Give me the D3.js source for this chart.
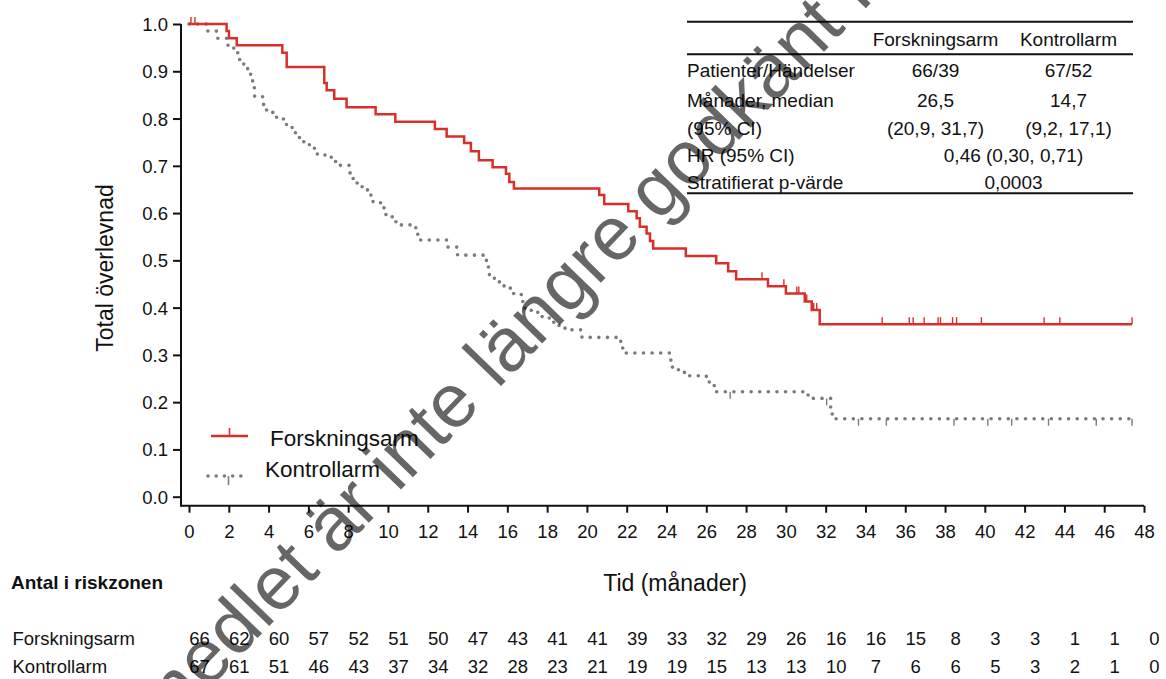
<!DOCTYPE html>
<html>
<head>
<meta charset="utf-8">
<script src="https://cdn.jsdelivr.net/npm/d3@7"></script>
<style>
body{margin:0;background:#fff}
svg{display:block;font-family:"Liberation Sans",Arial,sans-serif}
</style>
</head>
<body>
<svg id="chart" width="1166" height="679"></svg>
<script>
// Kaplan-Meier steps: month of each drop and the survival after it
var forskTime = [0,1.89,2.01,2.40,4.69,4.91,6.80,6.92,7.30,7.92,9.38,10.37,12.36,12.95,13.83,14.17,14.57,15.26,15.93,16.10,16.33,20.62,20.87,22.08,22.50,22.66,23.00,23.17,23.33,24.97,26.50,27.10,27.50,29.10,30.00,30.95,31.30,31.70];
var forskSurv = [1.0,0.985,0.970,0.955,0.939,0.909,0.875,0.860,0.842,0.824,0.809,0.793,0.778,0.762,0.748,0.731,0.712,0.697,0.683,0.666,0.652,0.638,0.619,0.604,0.589,0.571,0.557,0.541,0.525,0.509,0.494,0.477,0.460,0.445,0.430,0.413,0.395,0.365];
var forskCensor = [0.1,0.3,28.8,29.9,30.55,30.65,31.05,31.4,31.55,34.84,36.2,36.4,36.95,37.65,37.77,38.38,38.58,39.83,42.98,43.77,47.4];

var kontrollTime = [0,0.95,1.4,1.95,2.25,2.45,2.75,2.95,3.1,3.2,3.3,3.75,3.9,4.4,4.9,5.35,5.55,6.05,6.45,7.15,7.5,8.05,8.25,8.45,8.7,9.0,9.25,9.8,9.9,10.4,11.4,11.5,13.0,13.5,14.95,15.05,15.1,15.35,15.6,16.15,16.7,16.8,17.2,17.6,18.0,18.3,18.6,18.9,19.75,21.7,21.8,24.2,24.3,24.6,24.9,26.0,26.15,26.4,30.95,31.2,32.25,32.33,32.4];
var kontrollSurv = [1.0,0.985,0.970,0.955,0.940,0.925,0.910,0.895,0.880,0.865,0.846,0.829,0.813,0.799,0.781,0.765,0.751,0.737,0.723,0.709,0.701,0.685,0.673,0.660,0.649,0.638,0.622,0.607,0.592,0.575,0.559,0.543,0.528,0.511,0.494,0.480,0.462,0.455,0.446,0.430,0.413,0.399,0.390,0.381,0.378,0.369,0.361,0.353,0.337,0.321,0.304,0.289,0.272,0.264,0.256,0.249,0.235,0.222,0.215,0.208,0.187,0.171,0.165];
var kontrollCensor = [27.2,32.05,33.65,35.05,38.45,40.15,41.35,43.2,45.6,47.4];

var lastMonth = 47.4;

var xTicks = d3.range(0, 49, 2);
var yTicks = [0,0.1,0.2,0.3,0.4,0.5,0.6,0.7,0.8,0.9,1.0];

// number at risk
var riskMonths = d3.range(0, 49, 2);
var riskForsk = [66,62,60,57,52,51,50,47,43,41,41,39,33,32,29,26,16,16,15,8,3,3,1,1,0];
var riskKontroll = [67,61,51,46,43,37,34,32,28,23,21,19,19,15,13,13,10,7,6,6,5,3,2,1,0];

// summary table
var tableHead = ["Forskningsarm", "Kontrollarm"];
var tableLabels = ["Patienter/Händelser", "Månader, median", "(95% CI)", "HR (95% CI)", "Stratifierat p-värde"];
var tableForsk = ["66/39", "26,5", "(20,9, 31,7)"];
var tableKontroll = ["67/52", "14,7", "(9,2, 17,1)"];
var tableJoint = ["0,46 (0,30, 0,71)", "0,0003"];

var RED = "#d7302a", GREY = "#7b7b7b", INK = "#111";

var svg = d3.select("#chart");

var x = d3.scaleLinear().domain([0, 48]).range([189, 1144]);
var y = d3.scaleLinear().domain([0, 1]).range([496.7, 24]);
var axisY = 505.7, axisX = 181;

// build step data ending at last follow-up
function steps(times, surv) {
    var pts = times.map(function(t, i) { return {t: t, s: surv[i]}; });
    pts.push({t: lastMonth, s: surv[surv.length - 1]});
    return pts;
}
function survAt(times, surv, t) {
    var i = d3.bisectRight(times, t) - 1;
    return surv[Math.max(i, 0)];
}

var line = d3.line().curve(d3.curveStepAfter)
    .x(function(d) { return x(d.t); })
    .y(function(d) { return y(d.s); });

// axes
var gy = svg.append("g").attr("transform", "translate(" + axisX + ",0)")
    .call(d3.axisLeft(y).tickValues(yTicks).tickFormat(d3.format(".1f")).tickSize(8).tickPadding(5));
var gx = svg.append("g").attr("transform", "translate(0," + axisY + ")")
    .call(d3.axisBottom(x).tickValues(xTicks).tickSize(7).tickPadding(12));
[gx, gy].forEach(function(g) {
    g.select(".domain").remove();
    g.selectAll(".tick line").attr("stroke", INK).attr("stroke-width", 2);
    g.selectAll(".tick text").attr("fill", INK).style("font-size", "18.5px")
        .style("font-family", "'Liberation Sans',Arial,sans-serif");
});
gy.selectAll(".tick text").attr("dy", "0.35em");
svg.append("line").attr("x1", axisX).attr("x2", axisX).attr("y1", y(1)).attr("y2", axisY + 1)
    .attr("stroke", INK).attr("stroke-width", 2);
svg.append("line").attr("x1", axisX).attr("x2", x(48)).attr("y1", axisY).attr("y2", axisY)
    .attr("stroke", INK).attr("stroke-width", 2);

svg.append("text").attr("transform", "translate(105,268) rotate(-90)")
    .attr("text-anchor", "middle").attr("dy", "0.35em").attr("fill", INK)
    .style("font-size", "23px").text("Total överlevnad");
svg.append("text").attr("x", 675).attr("y", 583).attr("dy", "0.35em")
    .attr("text-anchor", "middle").attr("fill", INK)
    .style("font-size", "23px").text("Tid (månader)");

// curves
svg.append("path").datum(steps(kontrollTime, kontrollSurv))
    .attr("d", line).attr("fill", "none").attr("stroke", GREY)
    .attr("stroke-width", 3.6).attr("stroke-linecap", "round")
    .attr("stroke-dasharray", "0.01 8.6");
svg.selectAll(".kcens").data(kontrollCensor).enter().append("line")
    .attr("x1", function(d) { return x(d); }).attr("x2", function(d) { return x(d); })
    .attr("y1", function(d) { return y(survAt(kontrollTime, kontrollSurv, d)); })
    .attr("y2", function(d) { return y(survAt(kontrollTime, kontrollSurv, d)) + 7; })
    .attr("stroke", GREY).attr("stroke-width", 1.4);

svg.append("path").datum(steps(forskTime, forskSurv))
    .attr("d", line).attr("fill", "none").attr("stroke", RED)
    .attr("stroke-width", 2.5);
svg.selectAll(".fcens").data(forskCensor).enter().append("line")
    .attr("x1", function(d) { return x(d); }).attr("x2", function(d) { return x(d); })
    .attr("y1", function(d) { return y(survAt(forskTime, forskSurv, d)); })
    .attr("y2", function(d) { return y(survAt(forskTime, forskSurv, d)) - 7; })
    .attr("stroke", RED).attr("stroke-width", 1.4);

// legend
var lg = svg.append("g");
lg.append("line").attr("x1", 211).attr("x2", 248).attr("y1", 436).attr("y2", 436)
    .attr("stroke", RED).attr("stroke-width", 2.5);
lg.append("line").attr("x1", 229.5).attr("x2", 229.5).attr("y1", 428).attr("y2", 436)
    .attr("stroke", RED).attr("stroke-width", 1.6);
lg.append("text").attr("x", 270).attr("y", 438).attr("dy", "0.35em").attr("fill", INK)
    .style("font-size", "22.5px").text(tableHead[0]);
lg.append("line").attr("x1", 208).attr("x2", 249).attr("y1", 476).attr("y2", 476)
    .attr("stroke", GREY).attr("stroke-width", 3.6).attr("stroke-linecap", "round")
    .attr("stroke-dasharray", "0.01 8.2");
lg.append("line").attr("x1", 228.5).attr("x2", 228.5).attr("y1", 476).attr("y2", 485)
    .attr("stroke", GREY).attr("stroke-width", 1.6);
lg.append("text").attr("x", 265).attr("y", 469).attr("dy", "0.35em").attr("fill", INK)
    .style("font-size", "22.5px").text(tableHead[1]);

// summary table top right
var tb = svg.append("g").style("font-size", "19px").attr("fill", INK);
[21.7, 54.3, 193.3].forEach(function(ly) {
    tb.append("line").attr("x1", 687).attr("x2", 1133).attr("y1", ly).attr("y2", ly)
        .attr("stroke", INK).attr("stroke-width", 2);
});
var colX = [935.5, 1068.5], jointX = 1013.5;
var rowY = [70, 100, 128, 155, 182.7];
tb.selectAll(".th").data(tableHead).enter().append("text")
    .attr("x", function(d, i) { return colX[i]; }).attr("y", 39.3).attr("dy", "0.35em")
    .attr("text-anchor", "middle").text(function(d) { return d; });
tb.selectAll(".tl").data(tableLabels).enter().append("text")
    .attr("x", 687).attr("y", function(d, i) { return rowY[i]; }).attr("dy", "0.35em")
    .text(function(d) { return d; });
tb.selectAll(".tf").data(tableForsk).enter().append("text")
    .attr("x", colX[0]).attr("y", function(d, i) { return rowY[i]; }).attr("dy", "0.35em")
    .attr("text-anchor", "middle").text(function(d) { return d; });
tb.selectAll(".tk").data(tableKontroll).enter().append("text")
    .attr("x", colX[1]).attr("y", function(d, i) { return rowY[i]; }).attr("dy", "0.35em")
    .attr("text-anchor", "middle").text(function(d) { return d; });
tb.selectAll(".tj").data(tableJoint).enter().append("text")
    .attr("x", jointX).attr("y", function(d, i) { return rowY[i + 3]; }).attr("dy", "0.35em")
    .attr("text-anchor", "middle").text(function(d) { return d; });

// number at risk
var rk = svg.append("g").attr("fill", INK);
rk.append("text").attr("x", 11).attr("y", 582).attr("dy", "0.35em")
    .style("font-size", "19px").style("font-weight", "bold").text("Antal i riskzonen");
[[riskForsk, 639, tableHead[0]], [riskKontroll, 667, tableHead[1]]].forEach(function(r) {
    rk.append("text").attr("x", 12.5).attr("y", r[1]).attr("dy", "0.35em")
        .style("font-size", "18.5px").text(r[2]);
    rk.selectAll(null).data(r[0]).enter().append("text")
        .attr("x", function(d, i) { return x(riskMonths[i]) + 10.5; })
        .attr("y", r[1]).attr("dy", "0.35em").attr("text-anchor", "middle")
        .style("font-size", "18.5px").text(function(d) { return d; });
});

// diagonal watermark, pivoted on the start of "är"
var wm = svg.append("g").attr("transform", "translate(336,557) rotate(-46)")
    .attr("fill", "#000").attr("fill-opacity", 0.6).style("font-size", "76px");
wm.append("text").attr("x", -21).attr("text-anchor", "end").text("Läkemedlet");
wm.append("text").attr("x", 0).text("är inte längre godkänt för försäljning");
</script>
</body>
</html>
